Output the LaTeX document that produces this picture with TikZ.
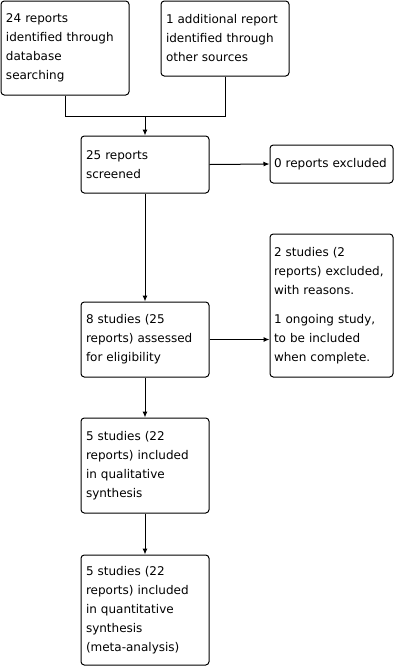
\documentclass[tikz,border=0pt]{standalone}
\usepackage{fontspec}
\setmainfont{DejaVu Sans}
\usetikzlibrary{arrows.meta}
\tikzset{
  box/.style={draw, line width=0.75pt, rounded corners=2.5pt, align=left,
    text width=88.5pt, inner xsep=3.75pt, inner ysep=0pt,
    font=\fontsize{9}{14.25}\selectfont},
  sidebox/.style={box, text width=86.25pt, inner xsep=3pt},
  flow/.style={line width=0.75pt, -{Latex[length=4.5pt,width=3.75pt]}}
}
\begin{document}
\begin{tikzpicture}[x=0.75pt, y=-0.75pt]
            \useasboundingbox (0,0) rectangle (402,669);
            % 定义节点
            \node[box, minimum height=70.5pt] (db) at (65,48) {24 reports\\identified through\\database\\searching};
            \node[box, minimum height=56.25pt] (other) at (225,38.5) {1 additional report\\identified through\\other sources};
            \coordinate (join) at (145,116);
            \node[box, minimum height=42.75pt] (screened) at (145,164.5) {25 reports\\screened};
            \node[sidebox, minimum height=28.5pt] (excl) at (331.5,164) {0 reports excluded};
            \node[sidebox, minimum height=107.25pt] (fulltext) at (331.5,305.5) {2 studies (2\\reports) excluded,\\with reasons.\\[7.5pt]1 ongoing study,\\to be included\\when complete.};
            \node[box, minimum height=56.25pt] (elig) at (145,339.5) {8 studies (25\\reports) assessed\\for eligibility};
            \node[box, minimum height=71.25pt] (qual) at (145,465.5) {5 studies (22\\reports) included\\in qualitative\\synthesis};
            \node[box, minimum height=82.5pt] (quant) at (145,610) {5 studies (22\\reports) included\\in quantitative\\synthesis\\(meta-analysis)};

            % 绘制连线
            \draw[line width=0.75pt] (db.south) |- (join);
            \draw[line width=0.75pt] (other.south) |- (join);
            \draw[flow] (join) -- (screened.north);
            \draw[flow] (screened.east) -- (excl.west);
            \draw[flow] (screened.south) -- (elig.north);
            \draw[flow] (elig.east) -- (elig.east -| fulltext.west);
            \draw[flow] (elig.south) -- (qual.north);
            \draw[flow] (qual.south) -- (quant.north);
\end{tikzpicture}
\end{document}
